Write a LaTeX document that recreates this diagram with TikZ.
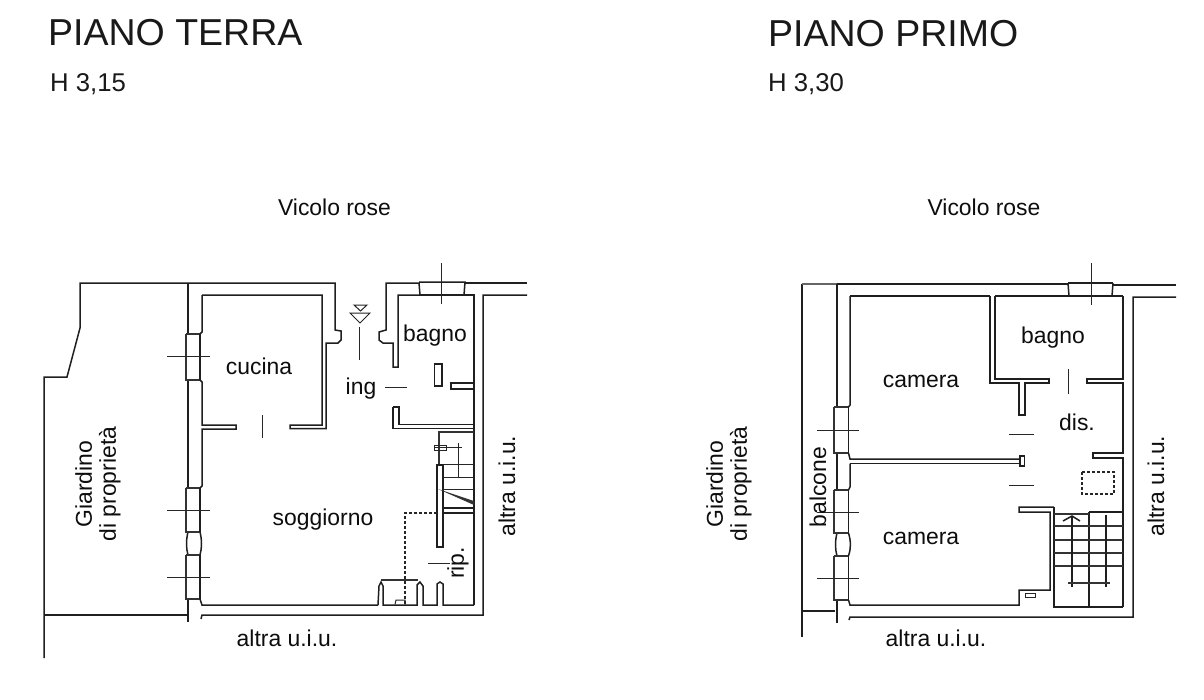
\documentclass[tikz,border=0pt]{standalone}
\usepackage{fontspec}
\setmainfont{Liberation Sans}
\newcommand{\fsz}[1]{\fontsize{#1}{#1}\selectfont}
\tikzset{
  x=1pt,y=-1pt,
  wall/.style={draw=black!88,line width=1.5pt,line join=miter},
  thin wall/.style={draw=black!80,line width=1.2pt},
  hair/.style={draw=black!85,line width=1pt},
  heavy/.style={draw=black!88,line width=2.5pt},
  title/.style={inner sep=0pt,anchor=base west,text=black!90,font=\fsz{37.5}},
  sub/.style={inner sep=0pt,anchor=base west,text=black!90,font=\fsz{25.7}},
  lab/.style={inner sep=0pt,yshift=-1.5pt,text=black!95,font=\fsz{22.9}},
  vlab/.style={inner sep=0pt,text=black!95,font=\fsz{22.9},rotate=90,align=center},
}
\begin{document}
\begin{tikzpicture}
\useasboundingbox[fill=white] (0,0) rectangle (1204,699);
% --- titles
\node[title] (t1) at (48,45) {PIANO TERRA};
\node[sub] (s1) at (50,91) {H 3,15};
\node[title] (t2) at (768,46) {PIANO PRIMO};
\node[sub] (s2) at (768,91) {H 3,30};
\node[lab] (v1) at (334.5,205.5) {Vicolo rose};
\node[lab] (v2) at (984,206) {Vicolo rose};
% --- PIANO TERRA: garden
\draw[wall] (188,283) -- (80,283) -- (80,328) -- (67,377) -- (44,377) -- (44,658);
\draw[wall] (44,615) -- (188,615);
% outer west wall
\draw[wall] (188,283) -- (188,334);
\draw[wall] (188,380) -- (188,488);
\draw[wall] (188,532) .. controls (186,540) and (186,548) .. (188,555);
\draw[wall] (188,600) -- (188,622);
% windows
\draw[thin wall] (186,334) -- (186,380) -- (200,380);
\draw[thin wall] (186,334) -- (200,334);
\draw[heavy,line width=1.9pt] (200,334) -- (200,380);
\draw[thin wall] (186,488) -- (186,532) -- (200,532);
\draw[thin wall] (186,488) -- (200,488);
\draw[heavy,line width=1.9pt] (200,488) -- (200,532);
\draw[thin wall] (186,555) -- (186,599) -- (200,599);
\draw[thin wall] (186,555) -- (200,555);
\draw[heavy,line width=1.9pt] (200,555) -- (200,599);
\draw[wall] (200,532) .. controls (202,540) and (202,548) .. (200,555);
\draw[wall] (202,295) -- (202,332) -- (200,334);
\draw[wall] (200,380) -- (202,382) -- (202,425) -- (236,425) -- (236,429) -- (202,429) -- (202,486) -- (200,488);
\draw[wall] (200,599) -- (202,605) -- (378,605);
\draw[hair] (167,356) -- (210,356);
\draw[hair] (167,510) -- (210,510);
\draw[hair] (167,577.5) -- (210,577.5);
% south outer
\draw[wall] (201,619) -- (202,615) -- (483,615) -- (483,295) -- (527,295);
% kitchen
\draw[wall] (202,295) -- (322,295) -- (322,425) -- (290,425) -- (290,428.5) -- (326,428.5) -- (326,343) -- (338,343) -- (341,340) -- (341,331) -- (335,330) -- (335,283) -- (188,283);
\draw[hair] (262,415) -- (262,438);
% entrance
\draw[hair] (354,305) -- (367,305) -- (360.5,311) -- cycle;
\draw[hair] (350,313) -- (370,313) -- (360,323) -- cycle;
\draw[hair] (359.5,327) -- (359.5,360);
\draw[hair] (385,387) -- (407,387);
% bagno
\draw[wall] (419,283) -- (386,283) -- (386,330) -- (379,332) -- (379,340) -- (383,343) -- (393,343) -- (393,367) -- (398,367) -- (398,295) -- (420,295);
\draw[wall] (419,283) -- (420,295);
\draw[wall] (419,282) -- (465,282) -- (464,295);
\draw[heavy,line width=1.9pt] (420,295) -- (464,295);
\draw[hair] (441.5,263) -- (441.5,304);
\draw[wall] (465,283) -- (527,283);
\draw[wall] (464,295) -- (474,295) -- (474,605);
\draw[wall] (434.5,364) rectangle (442,386);
\draw[wall] (474,383) -- (451,383) -- (451,389) -- (474,389);
\draw[wall] (393,407) -- (399,407) -- (399,424.5) -- (474,424.5);
\draw[wall] (393,407) -- (393,428.5) -- (474,428.5);
% stairs
\draw[thin wall] (439,465) -- (439,432) -- (474,432);
\draw[hair] (434,447.5) -- (462,447.5);
\draw[hair] (434,445) rectangle (446,450);
\draw[hair] (458,443) -- (458,477);
\draw[wall] (437,465) -- (437,547) -- (443,547) -- (443,465) -- cycle;
\foreach \yy in {464,477,489}{\draw[hair] (443,\yy) -- (474,\yy);}
\fill[black!80] (438,489) -- (474,501) -- (474,505) -- cycle;
\draw[wall] (443,508) -- (474,508);
\draw[wall] (443,513) -- (474,513);
\draw[hair,densely dashed,line width=1.1pt] (437,513) -- (405,513) -- (405,605);
\draw[hair] (428,563) -- (450,563);
% south piers
\draw[wall] (378,605) -- (379,586) -- (381,582) -- (383,586) -- (383,605) -- (417,605) -- (417,585) -- (420,582) -- (423,586) -- (423,605) -- (437,605) -- (437,584) -- (440,582) -- (443,584) -- (443,605) -- (474,605);
\draw[thin wall] (381,580) -- (418,580);
\draw[hair] (395,604.5) -- (396,600) -- (405,600) -- (405,604.5);
% labels ground floor
\node[lab] (l1) at (259,365) {cucina};
\node[lab] (l2) at (435,334) {bagno};
\node[lab] (l3) at (361,387) {ing};
\node[lab] (l4) at (323,518) {soggiorno};
\node[vlab] (l5) at (98,484) {Giardino\\[1pt]di proprietà};
\node[vlab] (l6) at (458,563) {rip.};
\node[vlab] (l7) at (507,486) {altra u.i.u.};
\node[lab] (l8) at (287,637) {altra u.i.u.};
% --- PIANO PRIMO
\draw[heavy] (802,284) -- (802,637);
\draw[wall,line width=2pt,draw=black!60] (802,284) -- (837,284);
\draw[wall] (802,611) -- (835,611);
\draw[wall] (837,284) -- (837,407);
\draw[wall] (837,453) -- (837,489);
\draw[wall] (837,533) .. controls (835,541) and (835,549) .. (837,556);
\draw[wall] (837,600) -- (837,623);
\draw[thin wall] (834,407) -- (834,453) -- (848.5,453);
\draw[thin wall] (834,407) -- (848.5,407);
\draw[heavy,line width=1.9pt] (848.5,407) -- (848.5,453);
\draw[thin wall] (834,490) -- (834,533) -- (848.5,533);
\draw[thin wall] (834,490) -- (848.5,490);
\draw[heavy,line width=1.9pt] (848.5,490) -- (848.5,533);
\draw[thin wall] (834,556) -- (834,600) -- (848.5,600);
\draw[thin wall] (834,556) -- (848.5,556);
\draw[heavy,line width=1.9pt] (848.5,556) -- (848.5,600);
\draw[wall] (850,296) -- (850,405) -- (848.5,407);
\draw[wall] (848.5,453) -- (850,459) -- (1020,459);
\draw[wall] (850,463.5) -- (1020,463.5);
\draw[wall] (850,463.5) -- (850,487) -- (848.5,490);
\draw[wall] (848.5,533) .. controls (851,541) and (851,549) .. (848.5,556);
\draw[wall] (848.5,600) -- (850,605) -- (1019,605) -- (1019,590) -- (1050,590) -- (1050,512) -- (1019,512) -- (1019,507) -- (1054,507);
\draw[wall] (1020,456) rectangle (1024.5,466);
\draw[hair] (817,430) -- (859,430);
\draw[hair] (817,512) -- (859,512);
\draw[hair] (817,578) -- (859,578);
\draw[wall] (837,284) -- (1068,284);
\draw[wall] (850,296) -- (990,296);
\draw[wall] (1068,283) -- (1113,283);
\draw[wall] (1068,283) -- (1069,296);
\draw[wall] (1113,283) -- (1112,296);
\draw[heavy,line width=1.9pt] (995,296) -- (1123,296);
\draw[hair] (1091,263) -- (1091,305);
\draw[wall] (1113,285) -- (1176,285);
\draw[wall] (1176,297) -- (1133,297) -- (1133,617) -- (850,617) -- (849,620);
\draw[wall] (1123,296) -- (1123,379) -- (1087,379) -- (1087,383) -- (1123,383) -- (1123,453) -- (1093,453) -- (1093,458) -- (1123,458) -- (1123,607);
\draw[wall] (990,296) -- (990,383) -- (1019,383) -- (1019,415) -- (1025,415) -- (1025,383) -- (1049,383) -- (1049,379) -- (995,379) -- (995,296);
\draw[hair] (1068,369) -- (1068,394);
\draw[hair] (1009,434) -- (1034,434);
\draw[hair] (1009,485) -- (1034,485);
\draw[hair,densely dashed,line width=1.1pt] (1082,472) rectangle (1114,494);
\draw[hair] (1025,593) rectangle (1035,597);
% first floor stairs
\draw[wall] (1054,507) -- (1054,607) -- (1123,607);
\draw[wall] (1089,512) -- (1089,607);
\draw[wall] (1089,512) -- (1123,512);
\draw[thin wall] (1054,514) -- (1089,514);
\foreach \yy in {526,540,553,566}{\draw[thin wall] (1054,\yy) -- (1123,\yy);}
\draw[wall] (1072,516) -- (1072,587);
\draw[wall] (1063,521) -- (1072,516) -- (1080,521);
\draw[wall] (1106,515) -- (1106,587);
\draw[thin wall] (1068,583) -- (1110,583);
% labels first floor
\node[lab] (m1) at (921,380) {camera};
\node[lab] (m2) at (921,537) {camera};
\node[lab] (m3) at (1053,336) {bagno};
\node[lab] (m4) at (1077,421) {dis.};
\node[vlab] (m5) at (729,484) {Giardino\\[1pt]di proprietà};
\node[vlab] (m6) at (818,487) {balcone};
\node[vlab] (m7) at (1156,486) {altra u.i.u.};
\node[lab] (m8) at (936,637) {altra u.i.u.};
\end{tikzpicture}
\end{document}
